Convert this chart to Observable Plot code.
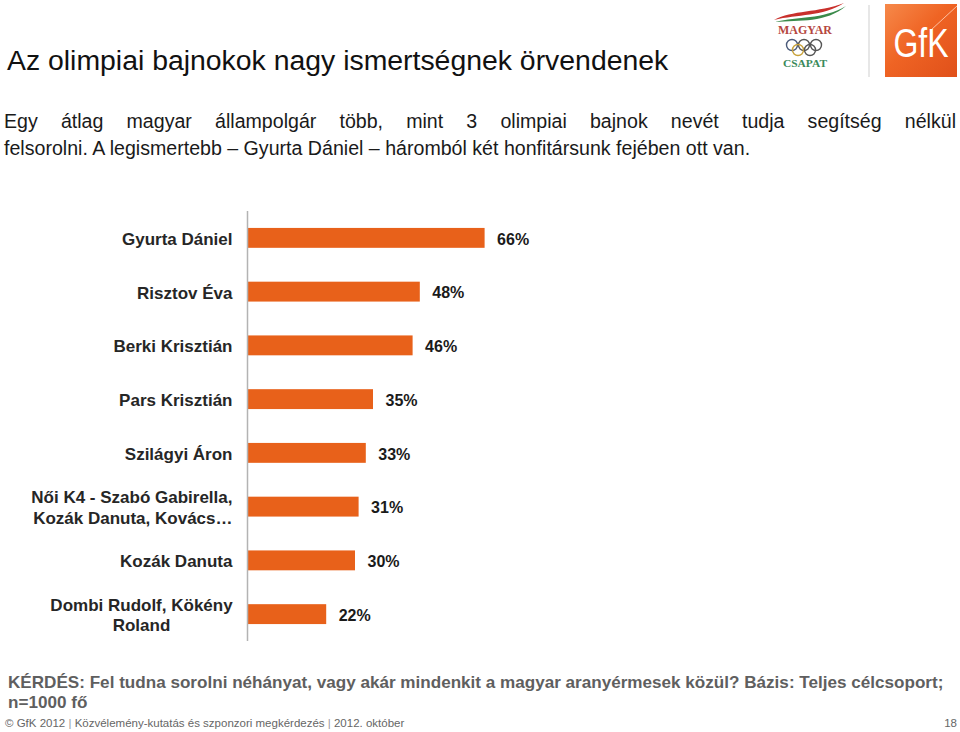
<!DOCTYPE html>
<html>
<head>
<meta charset="utf-8">
<script src="https://cdn.jsdelivr.net/npm/d3@7"></script>
<script src="https://cdn.jsdelivr.net/npm/@observablehq/plot@0.6"></script>
<style>
  html, body { margin: 0; padding: 0; background: #fff; }
  body { width: 960px; height: 732px; position: relative; overflow: hidden; font-family: "Liberation Sans", Arial, sans-serif; }
  .abs { position: absolute; }
  #title { left: 7px; top: 46px; font-size: 28.4px; line-height: 28px; color: #111; white-space: nowrap; }
  #sub1 { left: 4px; top: 112px; width: 952px; font-size: 19.6px; line-height: 19.6px; color: #1a1a1a; text-align: justify; text-align-last: justify; white-space: nowrap; }
  #sub2 { left: 4px; top: 139px; font-size: 19.6px; line-height: 19.6px; color: #1a1a1a; white-space: nowrap; }
  #chart { left: 0; top: 200px; }
  #note { left: 8px; top: 673px; width: 950px; font-size: 17.1px; line-height: 20px; font-weight: bold; color: #5f5f5f; white-space: nowrap; }
  #footer { left: 5px; top: 716px; font-size: 11.5px; line-height: 14px; color: #666; white-space: nowrap; }
  #page { right: 3px; top: 716px; font-size: 11.5px; line-height: 14px; color: #666; }
  #logos { left: 760px; top: 0; }
</style>
</head>
<body>
<div id="title" class="abs">Az olimpiai bajnokok nagy ismertségnek örvendenek</div>
<div id="sub1" class="abs">Egy átlag magyar állampolgár több, mint 3 olimpiai bajnok nevét tudja segítség nélkül</div>
<div id="sub2" class="abs">felsorolni. A legismertebb – Gyurta Dániel – háromból két honfitársunk fejében ott van.</div>
<div id="chart" class="abs"></div>
<div id="note" class="abs">KÉRDÉS: Fel tudna sorolni néhányat, vagy akár mindenkit a magyar aranyérmesek közül? Bázis: Teljes célcsoport;<br>n=1000 fő</div>
<div id="footer" class="abs">© GfK 2012 <span style="color:#999">|</span> Közvélemény-kutatás és szponzori megkérdezés <span style="color:#999">|</span> 2012. október</div>
<div id="page" class="abs">18</div>
<svg id="logos" class="abs" width="200" height="82" viewBox="0 0 200 82">
  <defs>
    <linearGradient id="gfkg" x1="0" y1="0" x2="1" y2="1">
      <stop offset="0" stop-color="#f6894a"/>
      <stop offset="0.45" stop-color="#ef6424"/>
      <stop offset="1" stop-color="#e0501a"/>
    </linearGradient>
  </defs>
  <!-- Magyar Csapat logo -->
  <path d="M14 20 C 32 10, 58 13, 84 3 C 62 17, 38 14, 14 20 Z" fill="#c9302c"/>
  <path d="M15 22 C 38 16, 62 20, 86 6 C 66 23, 40 20, 15 22 Z" fill="#3a8a4a"/>
  <text x="45" y="34" text-anchor="middle" font-family="Liberation Serif, serif" font-weight="bold" font-size="12" fill="#b5473f" textLength="54" lengthAdjust="spacingAndGlyphs">MAGYAR</text>
  <g fill="none" stroke-width="1.4">
    <circle cx="32" cy="45" r="5.5" stroke="#4a5a7a"/>
    <circle cx="44" cy="45" r="5.5" stroke="#555"/>
    <circle cx="56" cy="45" r="5.5" stroke="#555"/>
    <circle cx="38" cy="50" r="5.5" stroke="#c9a23a"/>
    <circle cx="50" cy="50" r="5.5" stroke="#555"/>
  </g>
  <text x="45" y="67" text-anchor="middle" font-family="Liberation Serif, serif" font-weight="bold" font-size="10.5" fill="#3a8a5a" textLength="44" lengthAdjust="spacingAndGlyphs">CSAPAT</text>
  <!-- separator -->
  <line x1="109" y1="5" x2="109" y2="77" stroke="#cfcfcf" stroke-width="1"/>
  <!-- GfK square -->
  <rect x="125" y="4" width="72" height="73" fill="url(#gfkg)"/>
  <line x1="171" y1="30" x2="197" y2="6" stroke="#ffd7bf" stroke-width="0.8"/>
  <text transform="translate(161,57) scale(0.8,1)" text-anchor="middle" font-family="Liberation Sans, Arial, sans-serif" font-size="40" fill="#fff">GfK</text>
</svg>
<script>
const names = [
  "Gyurta Dániel",
  "Risztov Éva",
  "Berki Krisztián",
  "Pars Krisztián",
  "Szilágyi Áron",
  "Női K4 - Szabó Gabirella,\nKozák Danuta, Kovács…",
  "Kozák Danuta",
  "Dombi Rudolf, Kökény\nRoland"
];
const values = [66, 48, 46, 35, 33, 31, 30, 22];

const data = names.map((name, i) => ({name, value: values[i]}));
const lastName = names[names.length - 1];
const rightLabels = data.filter(d => d.name !== lastName);
const centerLabels = data.filter(d => d.name === lastName);

const chart = Plot.plot({
  width: 960,
  height: 460,
  marginLeft: 247,
  marginRight: 353,
  marginTop: 11,
  marginBottom: 19,
  x: {domain: [0, 100], axis: null},
  y: {domain: names, axis: null, paddingInner: 0.63, paddingOuter: 0.315, round: false},
  style: {fontFamily: "'Liberation Sans', Arial, sans-serif", background: "transparent", overflow: "visible"},
  marks: [
    Plot.barX(data, {x: "value", y: "name", fill: "#E8611A"}),
    Plot.ruleX([0], {stroke: "#b3b3b3", strokeWidth: 1.5}),
    Plot.text(rightLabels, {x: 0, y: "name", text: "name", dx: -15, textAnchor: "end", fontWeight: "bold", fontSize: 17, fill: "#262626", lineHeight: 1.2}),
    Plot.text(centerLabels, {x: 0, y: "name", text: "name", dx: -106, textAnchor: "middle", fontWeight: "bold", fontSize: 17, fill: "#262626", lineHeight: 1.2}),
    Plot.text(data, {x: "value", y: "name", text: d => d.value + "%", dx: 12, dy: 1, textAnchor: "start", fontWeight: "bold", fontSize: 16, fill: "#1a1a1a"})
  ]
});
document.getElementById("chart").appendChild(chart);
</script>
</body>
</html>
